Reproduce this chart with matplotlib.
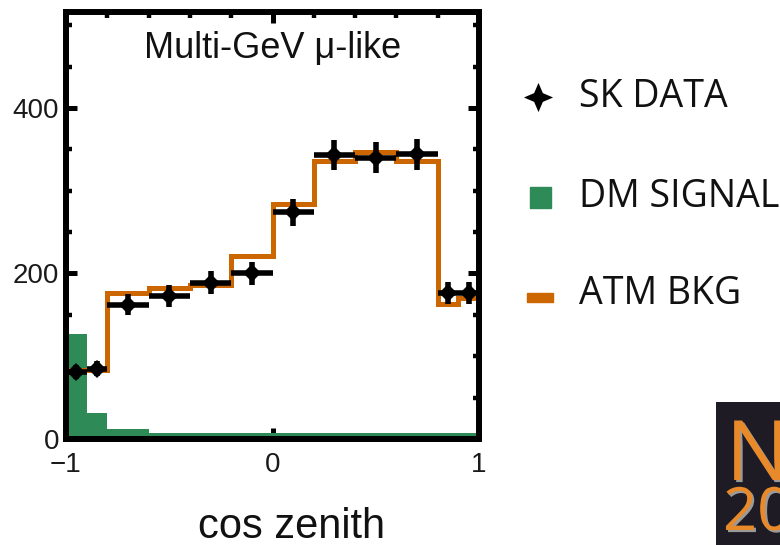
import numpy as np
import matplotlib
matplotlib.use("Agg")
import matplotlib.pyplot as plt
from matplotlib.lines import Line2D
from matplotlib.patches import Rectangle
from matplotlib.path import Path
import matplotlib.patheffects as pe

# ---- data ----
bin_edges = [-1.0, -0.9, -0.8, -0.6, -0.4, -0.2, 0.0, 0.2, 0.4, 0.6, 0.8, 0.9, 1.0]
atm_bkg = [83, 83, 176, 183, 186, 221, 284, 336, 347, 336, 163, 170]
dm_signal = [127, 32, 12, 7, 7, 7, 7, 7, 7, 7, 7, 7]
sk_data = [81, 85, 162, 173, 189, 200, 274, 343, 340, 344, 177, 177]

title = "Multi-GeV \u03bc-like"
xlabel = "cos zenith"
legend_labels = ["SK DATA", "DM SIGNAL", "ATM BKG"]

GREEN = "#2e8b57"
ORANGE = "#cc6600"

edges = np.array(bin_edges)
centers = 0.5 * (edges[:-1] + edges[1:])
halfw = 0.5 * np.diff(edges)
yerr = np.sqrt(np.array(sk_data, dtype=float))

fig = plt.figure(figsize=(7.8, 5.45), dpi=100)
ax = fig.add_axes([66 / 780, 1 - 439 / 545, (479 - 66) / 780, (439 - 12) / 545])

ax.stairs(dm_signal, edges, fill=True, color=GREEN, zorder=2)
ax.stairs(atm_bkg, edges, baseline=None, color=ORANGE, lw=3.6, zorder=3)
ax.errorbar(centers, sk_data, xerr=halfw, yerr=yerr, fmt="D", color="black",
            ms=9, mew=0, elinewidth=4, capsize=0, zorder=4)

ax.set_xlim(-1, 1)
ax.set_ylim(0, 516)
ax.set_xticks([-1, 0, 1])
ax.set_xticklabels(["\u22121", "0", "1"])
ax.set_xticks(np.arange(-0.8, 0.81, 0.2), minor=True)
ax.set_yticks([0, 200, 400])
ax.set_yticks([50, 100, 150, 250, 300, 350, 450, 500], minor=True)

for s in ax.spines.values():
    s.set_linewidth(4.3)
    s.set_zorder(5)
ax.tick_params(which="both", direction="in", top=True, right=True,
               labelfontfamily="Liberation Sans", labelcolor="#1a1a1a")
ax.tick_params(which="major", length=8, width=3.6, labelsize=20)
ax.tick_params(axis="x", which="major", pad=9)
ax.tick_params(axis="y", which="major", pad=5)
ax.tick_params(which="minor", length=4.5, width=3.2)

ax.text(0.5, 0.915, title, transform=ax.transAxes, ha="center", va="center",
        fontsize=26, family="Liberation Sans", color="#111111")

fig.text(292 / 780, 1 - 527 / 545, xlabel, ha="center", va="center",
         fontsize=30, family="Liberation Sans", color="#111111")

# ---- legend (manual) ----
star = Path([(0, 1), (0.3, 0.3), (1, 0), (0.3, -0.3), (0, -1),
             (-0.3, -0.3), (-1, 0), (-0.3, 0.3), (0, 1)], closed=True)
leg_y = [97, 197, 294]
fig.add_artist(Line2D([538 / 780], [1 - leg_y[0] / 545], marker=star, ms=21,
                      color="black", mew=0, ls="none", transform=fig.transFigure))
fig.add_artist(Rectangle((530 / 780, 1 - 208 / 545), 21 / 780, 21 / 545,
                         color=GREEN, transform=fig.transFigure))
fig.add_artist(Rectangle((527 / 780, 1 - 302 / 545), 26 / 780, 9 / 545,
                         color=ORANGE, transform=fig.transFigure))
for lab, yy in zip(legend_labels, leg_y):
    fig.text(579 / 780, 1 - yy / 545, lab, ha="left", va="center",
             fontsize=27, family="Open Sans", color="#111111")

# ---- logo fragment ----
lax = fig.add_axes([716 / 780, 0, 64 / 780, 143 / 545])
lax.set_facecolor("#1e1b25")
lax.set_xlim(0, 64)
lax.set_ylim(0, 143)
lax.set_xticks([])
lax.set_yticks([])
for s in lax.spines.values():
    s.set_visible(False)
shadow = [pe.SimpleLineShadow(offset=(1.5, -1.5), shadow_color="#9a9a9a", alpha=1.0),
          pe.withSimplePatchShadow(offset=(1.5, -1.5), shadow_rgbFace="#9a9a9a", alpha=1.0)]
for txt, x, y, fs in [("NE", 10, 65, 60), ("20", 7, 15, 43)]:
    lax.text(x, y, txt, fontsize=fs, family="Open Sans",
             color="#e8892a", ha="left", va="baseline",
             path_effects=[pe.withSimplePatchShadow(offset=(1.5, -1.5),
                                                    shadow_rgbFace="#9a9a9a",
                                                    alpha=1.0)])

fig.savefig("out.png", dpi=100)
